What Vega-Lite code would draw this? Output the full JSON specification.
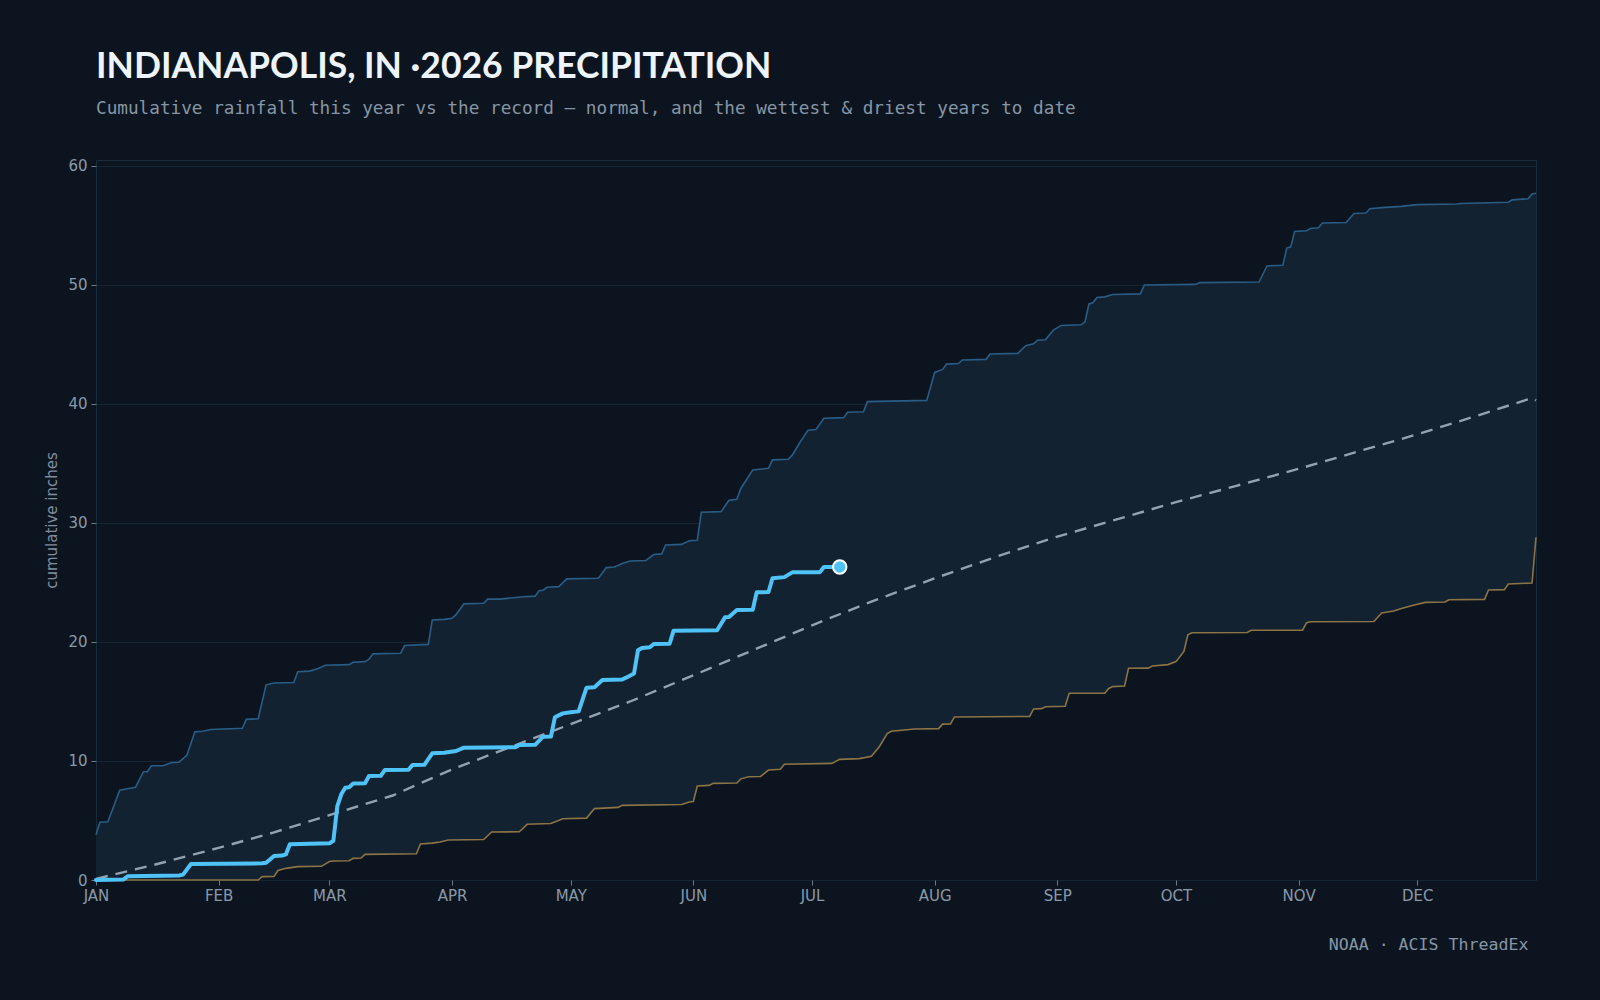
{
  "$schema": "https://vega.github.io/schema/vega-lite/v6.json",
  "width": 1440,
  "height": 720,
  "autosize": {"type": "none"},
  "padding": {"left": 96, "top": 160, "right": 64, "bottom": 120},
  "background": "#0c151f",
  "title": {
    "text": "INDIANAPOLIS, IN ·2026 PRECIPITATION",
    "subtitle": "Cumulative rainfall this year vs the record — normal, and the wettest & driest years to date",
    "anchor": "start",
    "frame": "group",
    "font": "Lato",
    "fontSize": 35.5,
    "fontWeight": "bold",
    "color": "#eef4fa",
    "subtitleFont": "DejaVu Sans Mono",
    "subtitleFontSize": 17.7,
    "subtitleColor": "#8796a6",
    "subtitlePadding": 15,
    "offset": 41
  },
  "config": {
    "view": {"stroke": "#1a2b3a", "strokeWidth": 1},
    "axis": {
      "domain": false,
      "zindex": 1,
      "labelFont": "DejaVu Sans",
      "labelFontSize": 15,
      "labelColor": "#8a99a9",
      "tickColor": "#6b7b8b",
      "tickSize": 5,
      "gridColor": "#162533",
      "gridWidth": 1
    }
  },
  "datasets": {
    "wettest": [
      {"date": "2026-01-01", "inches": 3.8}, {"date": "2026-01-02", "inches": 4.85}, {"date": "2026-01-04", "inches": 4.9},
      {"date": "2026-01-07", "inches": 7.55}, {"date": "2026-01-11", "inches": 7.8}, {"date": "2026-01-13", "inches": 9.1},
      {"date": "2026-01-14", "inches": 9.1}, {"date": "2026-01-15", "inches": 9.6}, {"date": "2026-01-18", "inches": 9.6},
      {"date": "2026-01-20", "inches": 9.85}, {"date": "2026-01-22", "inches": 9.9}, {"date": "2026-01-24", "inches": 10.5},
      {"date": "2026-01-26", "inches": 12.45}, {"date": "2026-01-28", "inches": 12.5}, {"date": "2026-01-30", "inches": 12.65},
      {"date": "2026-02-07", "inches": 12.75}, {"date": "2026-02-08", "inches": 13.5}, {"date": "2026-02-11", "inches": 13.55},
      {"date": "2026-02-13", "inches": 16.4}, {"date": "2026-02-15", "inches": 16.55}, {"date": "2026-02-20", "inches": 16.6},
      {"date": "2026-02-21", "inches": 17.5}, {"date": "2026-02-24", "inches": 17.55}, {"date": "2026-02-26", "inches": 17.75},
      {"date": "2026-02-28", "inches": 18.05}, {"date": "2026-03-06", "inches": 18.1}, {"date": "2026-03-07", "inches": 18.3},
      {"date": "2026-03-10", "inches": 18.35}, {"date": "2026-03-11", "inches": 18.55}, {"date": "2026-03-12", "inches": 19.0},
      {"date": "2026-03-19", "inches": 19.05}, {"date": "2026-03-20", "inches": 19.7}, {"date": "2026-03-26", "inches": 19.8},
      {"date": "2026-03-27", "inches": 21.85}, {"date": "2026-03-30", "inches": 21.9}, {"date": "2026-04-01", "inches": 22.0},
      {"date": "2026-04-02", "inches": 22.3}, {"date": "2026-04-04", "inches": 23.2}, {"date": "2026-04-09", "inches": 23.25},
      {"date": "2026-04-10", "inches": 23.6}, {"date": "2026-04-13", "inches": 23.6}, {"date": "2026-04-19", "inches": 23.8},
      {"date": "2026-04-22", "inches": 23.85}, {"date": "2026-04-23", "inches": 24.3}, {"date": "2026-04-24", "inches": 24.35},
      {"date": "2026-04-25", "inches": 24.6}, {"date": "2026-04-28", "inches": 24.65}, {"date": "2026-04-30", "inches": 25.3},
      {"date": "2026-05-08", "inches": 25.35}, {"date": "2026-05-10", "inches": 26.25}, {"date": "2026-05-12", "inches": 26.3},
      {"date": "2026-05-14", "inches": 26.6}, {"date": "2026-05-16", "inches": 26.8}, {"date": "2026-05-20", "inches": 26.85},
      {"date": "2026-05-22", "inches": 27.35}, {"date": "2026-05-24", "inches": 27.4}, {"date": "2026-05-25", "inches": 28.15},
      {"date": "2026-05-29", "inches": 28.2}, {"date": "2026-05-31", "inches": 28.5}, {"date": "2026-06-02", "inches": 28.55},
      {"date": "2026-06-03", "inches": 30.9}, {"date": "2026-06-08", "inches": 30.95}, {"date": "2026-06-10", "inches": 31.9},
      {"date": "2026-06-12", "inches": 32.0}, {"date": "2026-06-13", "inches": 32.9}, {"date": "2026-06-16", "inches": 34.45},
      {"date": "2026-06-20", "inches": 34.6}, {"date": "2026-06-21", "inches": 35.3}, {"date": "2026-06-25", "inches": 35.35},
      {"date": "2026-06-26", "inches": 35.7}, {"date": "2026-06-28", "inches": 36.8}, {"date": "2026-06-30", "inches": 37.8},
      {"date": "2026-07-02", "inches": 37.85}, {"date": "2026-07-04", "inches": 38.8}, {"date": "2026-07-09", "inches": 38.85},
      {"date": "2026-07-10", "inches": 39.3}, {"date": "2026-07-14", "inches": 39.35}, {"date": "2026-07-15", "inches": 40.2},
      {"date": "2026-07-30", "inches": 40.3}, {"date": "2026-08-01", "inches": 42.65}, {"date": "2026-08-03", "inches": 42.9},
      {"date": "2026-08-04", "inches": 43.35}, {"date": "2026-08-07", "inches": 43.4}, {"date": "2026-08-08", "inches": 43.7},
      {"date": "2026-08-14", "inches": 43.75}, {"date": "2026-08-15", "inches": 44.2}, {"date": "2026-08-22", "inches": 44.25},
      {"date": "2026-08-24", "inches": 44.9}, {"date": "2026-08-26", "inches": 45.05}, {"date": "2026-08-27", "inches": 45.35},
      {"date": "2026-08-29", "inches": 45.4}, {"date": "2026-08-31", "inches": 46.2}, {"date": "2026-09-02", "inches": 46.6},
      {"date": "2026-09-07", "inches": 46.65}, {"date": "2026-09-08", "inches": 46.9}, {"date": "2026-09-09", "inches": 48.4},
      {"date": "2026-09-10", "inches": 48.5}, {"date": "2026-09-11", "inches": 48.95}, {"date": "2026-09-13", "inches": 49.0},
      {"date": "2026-09-15", "inches": 49.2}, {"date": "2026-09-22", "inches": 49.25}, {"date": "2026-09-23", "inches": 50.0},
      {"date": "2026-10-06", "inches": 50.05}, {"date": "2026-10-07", "inches": 50.2}, {"date": "2026-10-22", "inches": 50.25},
      {"date": "2026-10-24", "inches": 51.6}, {"date": "2026-10-28", "inches": 51.65}, {"date": "2026-10-29", "inches": 53.1},
      {"date": "2026-10-30", "inches": 53.2}, {"date": "2026-10-31", "inches": 54.5}, {"date": "2026-11-03", "inches": 54.55},
      {"date": "2026-11-04", "inches": 54.75}, {"date": "2026-11-06", "inches": 54.8}, {"date": "2026-11-07", "inches": 55.2},
      {"date": "2026-11-13", "inches": 55.25}, {"date": "2026-11-15", "inches": 56.0}, {"date": "2026-11-18", "inches": 56.05},
      {"date": "2026-11-19", "inches": 56.4}, {"date": "2026-11-22", "inches": 56.5}, {"date": "2026-11-27", "inches": 56.6},
      {"date": "2026-12-01", "inches": 56.75}, {"date": "2026-12-11", "inches": 56.8}, {"date": "2026-12-12", "inches": 56.85},
      {"date": "2026-12-24", "inches": 56.95}, {"date": "2026-12-25", "inches": 57.15}, {"date": "2026-12-29", "inches": 57.25},
      {"date": "2026-12-30", "inches": 57.65}, {"date": "2026-12-31", "inches": 57.7}
    ],
    "driest": [
      {"date": "2026-01-01", "inches": 0}, {"date": "2026-02-11", "inches": 0}, {"date": "2026-02-12", "inches": 0.28},
      {"date": "2026-02-15", "inches": 0.3}, {"date": "2026-02-16", "inches": 0.8}, {"date": "2026-02-18", "inches": 0.98},
      {"date": "2026-02-21", "inches": 1.12}, {"date": "2026-02-27", "inches": 1.15}, {"date": "2026-03-01", "inches": 1.55},
      {"date": "2026-03-02", "inches": 1.6}, {"date": "2026-03-06", "inches": 1.62}, {"date": "2026-03-07", "inches": 1.82},
      {"date": "2026-03-09", "inches": 1.85}, {"date": "2026-03-10", "inches": 2.15}, {"date": "2026-03-23", "inches": 2.2},
      {"date": "2026-03-24", "inches": 3.02}, {"date": "2026-03-27", "inches": 3.1}, {"date": "2026-03-29", "inches": 3.2},
      {"date": "2026-03-31", "inches": 3.36}, {"date": "2026-04-09", "inches": 3.4}, {"date": "2026-04-11", "inches": 4.03},
      {"date": "2026-04-18", "inches": 4.05}, {"date": "2026-04-20", "inches": 4.68}, {"date": "2026-04-26", "inches": 4.75},
      {"date": "2026-04-29", "inches": 5.15}, {"date": "2026-05-05", "inches": 5.2}, {"date": "2026-05-07", "inches": 6.0},
      {"date": "2026-05-13", "inches": 6.1}, {"date": "2026-05-14", "inches": 6.27}, {"date": "2026-05-29", "inches": 6.35},
      {"date": "2026-05-31", "inches": 6.55}, {"date": "2026-06-01", "inches": 6.6}, {"date": "2026-06-02", "inches": 7.9},
      {"date": "2026-06-05", "inches": 7.95}, {"date": "2026-06-06", "inches": 8.12}, {"date": "2026-06-12", "inches": 8.15},
      {"date": "2026-06-13", "inches": 8.5}, {"date": "2026-06-15", "inches": 8.68}, {"date": "2026-06-18", "inches": 8.7},
      {"date": "2026-06-20", "inches": 9.24}, {"date": "2026-06-23", "inches": 9.3}, {"date": "2026-06-24", "inches": 9.72},
      {"date": "2026-07-06", "inches": 9.8}, {"date": "2026-07-08", "inches": 10.14}, {"date": "2026-07-13", "inches": 10.2},
      {"date": "2026-07-16", "inches": 10.4}, {"date": "2026-07-18", "inches": 11.2}, {"date": "2026-07-20", "inches": 12.3},
      {"date": "2026-07-21", "inches": 12.5}, {"date": "2026-07-27", "inches": 12.69}, {"date": "2026-08-02", "inches": 12.72},
      {"date": "2026-08-03", "inches": 13.1}, {"date": "2026-08-05", "inches": 13.12}, {"date": "2026-08-06", "inches": 13.7},
      {"date": "2026-08-25", "inches": 13.75}, {"date": "2026-08-26", "inches": 14.37}, {"date": "2026-08-28", "inches": 14.4},
      {"date": "2026-08-29", "inches": 14.56}, {"date": "2026-09-03", "inches": 14.6}, {"date": "2026-09-04", "inches": 15.69},
      {"date": "2026-09-13", "inches": 15.7}, {"date": "2026-09-14", "inches": 16.1}, {"date": "2026-09-15", "inches": 16.25},
      {"date": "2026-09-18", "inches": 16.3}, {"date": "2026-09-19", "inches": 17.79}, {"date": "2026-09-24", "inches": 17.8},
      {"date": "2026-09-25", "inches": 17.98}, {"date": "2026-09-29", "inches": 18.1}, {"date": "2026-10-01", "inches": 18.35},
      {"date": "2026-10-03", "inches": 19.2}, {"date": "2026-10-04", "inches": 20.6}, {"date": "2026-10-05", "inches": 20.78},
      {"date": "2026-10-19", "inches": 20.8}, {"date": "2026-10-20", "inches": 20.98}, {"date": "2026-11-02", "inches": 21.0},
      {"date": "2026-11-03", "inches": 21.62}, {"date": "2026-11-04", "inches": 21.7}, {"date": "2026-11-20", "inches": 21.72},
      {"date": "2026-11-22", "inches": 22.44}, {"date": "2026-11-25", "inches": 22.6}, {"date": "2026-11-27", "inches": 22.81},
      {"date": "2026-11-30", "inches": 23.09}, {"date": "2026-12-03", "inches": 23.33}, {"date": "2026-12-08", "inches": 23.36},
      {"date": "2026-12-09", "inches": 23.55}, {"date": "2026-12-18", "inches": 23.58}, {"date": "2026-12-19", "inches": 24.37},
      {"date": "2026-12-23", "inches": 24.4}, {"date": "2026-12-24", "inches": 24.87}, {"date": "2026-12-30", "inches": 24.95},
      {"date": "2026-12-31", "inches": 28.8}
    ],
    "normal": [
      {"date": "2026-01-01", "inches": 0.1}, {"date": "2026-01-16", "inches": 1.3}, {"date": "2026-02-01", "inches": 2.7},
      {"date": "2026-02-15", "inches": 4.0}, {"date": "2026-03-01", "inches": 5.45}, {"date": "2026-03-17", "inches": 7.1},
      {"date": "2026-04-01", "inches": 9.3}, {"date": "2026-04-16", "inches": 11.2}, {"date": "2026-05-01", "inches": 13.1},
      {"date": "2026-05-16", "inches": 15.0}, {"date": "2026-06-01", "inches": 17.2}, {"date": "2026-06-16", "inches": 19.3},
      {"date": "2026-07-01", "inches": 21.4}, {"date": "2026-07-16", "inches": 23.4}, {"date": "2026-08-01", "inches": 25.35},
      {"date": "2026-08-16", "inches": 27.1}, {"date": "2026-09-01", "inches": 28.85}, {"date": "2026-09-16", "inches": 30.3},
      {"date": "2026-10-01", "inches": 31.75}, {"date": "2026-10-16", "inches": 33.1}, {"date": "2026-11-01", "inches": 34.55},
      {"date": "2026-11-16", "inches": 36.0}, {"date": "2026-12-01", "inches": 37.45}, {"date": "2026-12-16", "inches": 39.0},
      {"date": "2026-12-30", "inches": 40.5}, {"date": "2026-12-31", "inches": 40.3}
    ],
    "thisYear": [
      {"date": "2026-01-01", "inches": 0}, {"date": "2026-01-08", "inches": 0.05}, {"date": "2026-01-09", "inches": 0.32},
      {"date": "2026-01-22", "inches": 0.38}, {"date": "2026-01-23", "inches": 0.45}, {"date": "2026-01-25", "inches": 1.34},
      {"date": "2026-02-12", "inches": 1.4}, {"date": "2026-02-13", "inches": 1.45}, {"date": "2026-02-15", "inches": 2.02},
      {"date": "2026-02-17", "inches": 2.05}, {"date": "2026-02-18", "inches": 2.15}, {"date": "2026-02-19", "inches": 3.0},
      {"date": "2026-03-01", "inches": 3.08}, {"date": "2026-03-02", "inches": 3.3}, {"date": "2026-03-03", "inches": 6.2},
      {"date": "2026-03-04", "inches": 7.2}, {"date": "2026-03-05", "inches": 7.75}, {"date": "2026-03-06", "inches": 7.8},
      {"date": "2026-03-07", "inches": 8.1}, {"date": "2026-03-10", "inches": 8.12}, {"date": "2026-03-11", "inches": 8.74},
      {"date": "2026-03-14", "inches": 8.76}, {"date": "2026-03-15", "inches": 9.24}, {"date": "2026-03-21", "inches": 9.26},
      {"date": "2026-03-22", "inches": 9.66}, {"date": "2026-03-25", "inches": 9.68}, {"date": "2026-03-27", "inches": 10.65},
      {"date": "2026-03-30", "inches": 10.7}, {"date": "2026-04-02", "inches": 10.84}, {"date": "2026-04-04", "inches": 11.12},
      {"date": "2026-04-17", "inches": 11.15}, {"date": "2026-04-18", "inches": 11.34}, {"date": "2026-04-22", "inches": 11.36},
      {"date": "2026-04-24", "inches": 12.04}, {"date": "2026-04-26", "inches": 12.06}, {"date": "2026-04-27", "inches": 13.67},
      {"date": "2026-04-29", "inches": 14.0}, {"date": "2026-05-01", "inches": 14.1}, {"date": "2026-05-03", "inches": 14.17},
      {"date": "2026-05-05", "inches": 16.16}, {"date": "2026-05-07", "inches": 16.2}, {"date": "2026-05-09", "inches": 16.8},
      {"date": "2026-05-14", "inches": 16.85}, {"date": "2026-05-15", "inches": 17.0}, {"date": "2026-05-17", "inches": 17.35},
      {"date": "2026-05-18", "inches": 19.3}, {"date": "2026-05-19", "inches": 19.5}, {"date": "2026-05-21", "inches": 19.55},
      {"date": "2026-05-22", "inches": 19.83}, {"date": "2026-05-26", "inches": 19.85}, {"date": "2026-05-27", "inches": 20.95},
      {"date": "2026-06-07", "inches": 20.98}, {"date": "2026-06-09", "inches": 22.07}, {"date": "2026-06-10", "inches": 22.1},
      {"date": "2026-06-12", "inches": 22.69}, {"date": "2026-06-16", "inches": 22.7}, {"date": "2026-06-17", "inches": 24.17},
      {"date": "2026-06-20", "inches": 24.2}, {"date": "2026-06-21", "inches": 25.35}, {"date": "2026-06-24", "inches": 25.45},
      {"date": "2026-06-26", "inches": 25.85}, {"date": "2026-07-03", "inches": 25.87}, {"date": "2026-07-04", "inches": 26.3},
      {"date": "2026-07-08", "inches": 26.3}
    ]
  },
  "encoding": {
    "x": {
      "field": "date",
      "type": "temporal",
      "scale": {
        "type": "utc",
        "domain": [
          {"year": 2026, "month": 1, "date": 1, "utc": true},
          {"year": 2026, "month": 12, "date": 31, "utc": true}
        ]
      },
      "axis": {
        "grid": false,
        "tickCount": {"interval": "month", "step": 1},
        "labelExpr": "upper(utcFormat(datum.value, '%b'))",
        "labelFlush": false,
        "labelPadding": 3,
        "title": "NOAA · ACIS ThreadEx",
        "titleFont": "DejaVu Sans Mono",
        "titleFontSize": 16.6,
        "titleFontWeight": "normal",
        "titleColor": "#8796a6",
        "titleAlign": "right",
        "titleBaseline": "alphabetic",
        "titleX": 1432,
        "titleY": 69
      }
    },
    "y": {
      "field": "inches",
      "type": "quantitative",
      "scale": {"domain": [0, 60.5], "nice": false},
      "axis": {
        "values": [0, 10, 20, 30, 40, 50, 60],
        "grid": true,
        "labelPadding": 4,
        "title": "cumulative inches",
        "titleFont": "DejaVu Sans",
        "titleFontSize": 15,
        "titleFontWeight": "normal",
        "titleColor": "#7f8e9e",
        "titlePadding": 8
      }
    }
  },
  "layer": [
    {
      "data": {"name": "wettest"},
      "mark": {"type": "area", "color": "#122231", "opacity": 1}
    },
    {
      "data": {"name": "driest"},
      "mark": {"type": "area", "color": "#0c151f", "opacity": 1}
    },
    {
      "data": {"name": "wettest"},
      "mark": {"type": "line", "stroke": "#2a5d86", "strokeWidth": 1.6}
    },
    {
      "data": {"name": "driest"},
      "mark": {"type": "line", "stroke": "#8c7446", "strokeWidth": 1.6}
    },
    {
      "data": {"name": "normal"},
      "mark": {"type": "line", "stroke": "#93a2b0", "strokeWidth": 2.4, "strokeDash": [12, 8]}
    },
    {
      "data": {"name": "thisYear"},
      "mark": {"type": "line", "stroke": "#4fc3f7", "strokeWidth": 4, "strokeJoin": "round", "strokeCap": "round"}
    },
    {
      "data": {"name": "thisYear"},
      "transform": [
        {"window": [{"op": "row_number", "as": "rank"}], "sort": [{"field": "date", "order": "descending"}]},
        {"filter": "datum.rank === 1"}
      ],
      "mark": {"type": "point", "filled": true, "fill": "#4fc3f7", "stroke": "#ffffff", "strokeWidth": 2, "size": 180, "opacity": 1}
    }
  ]
}
